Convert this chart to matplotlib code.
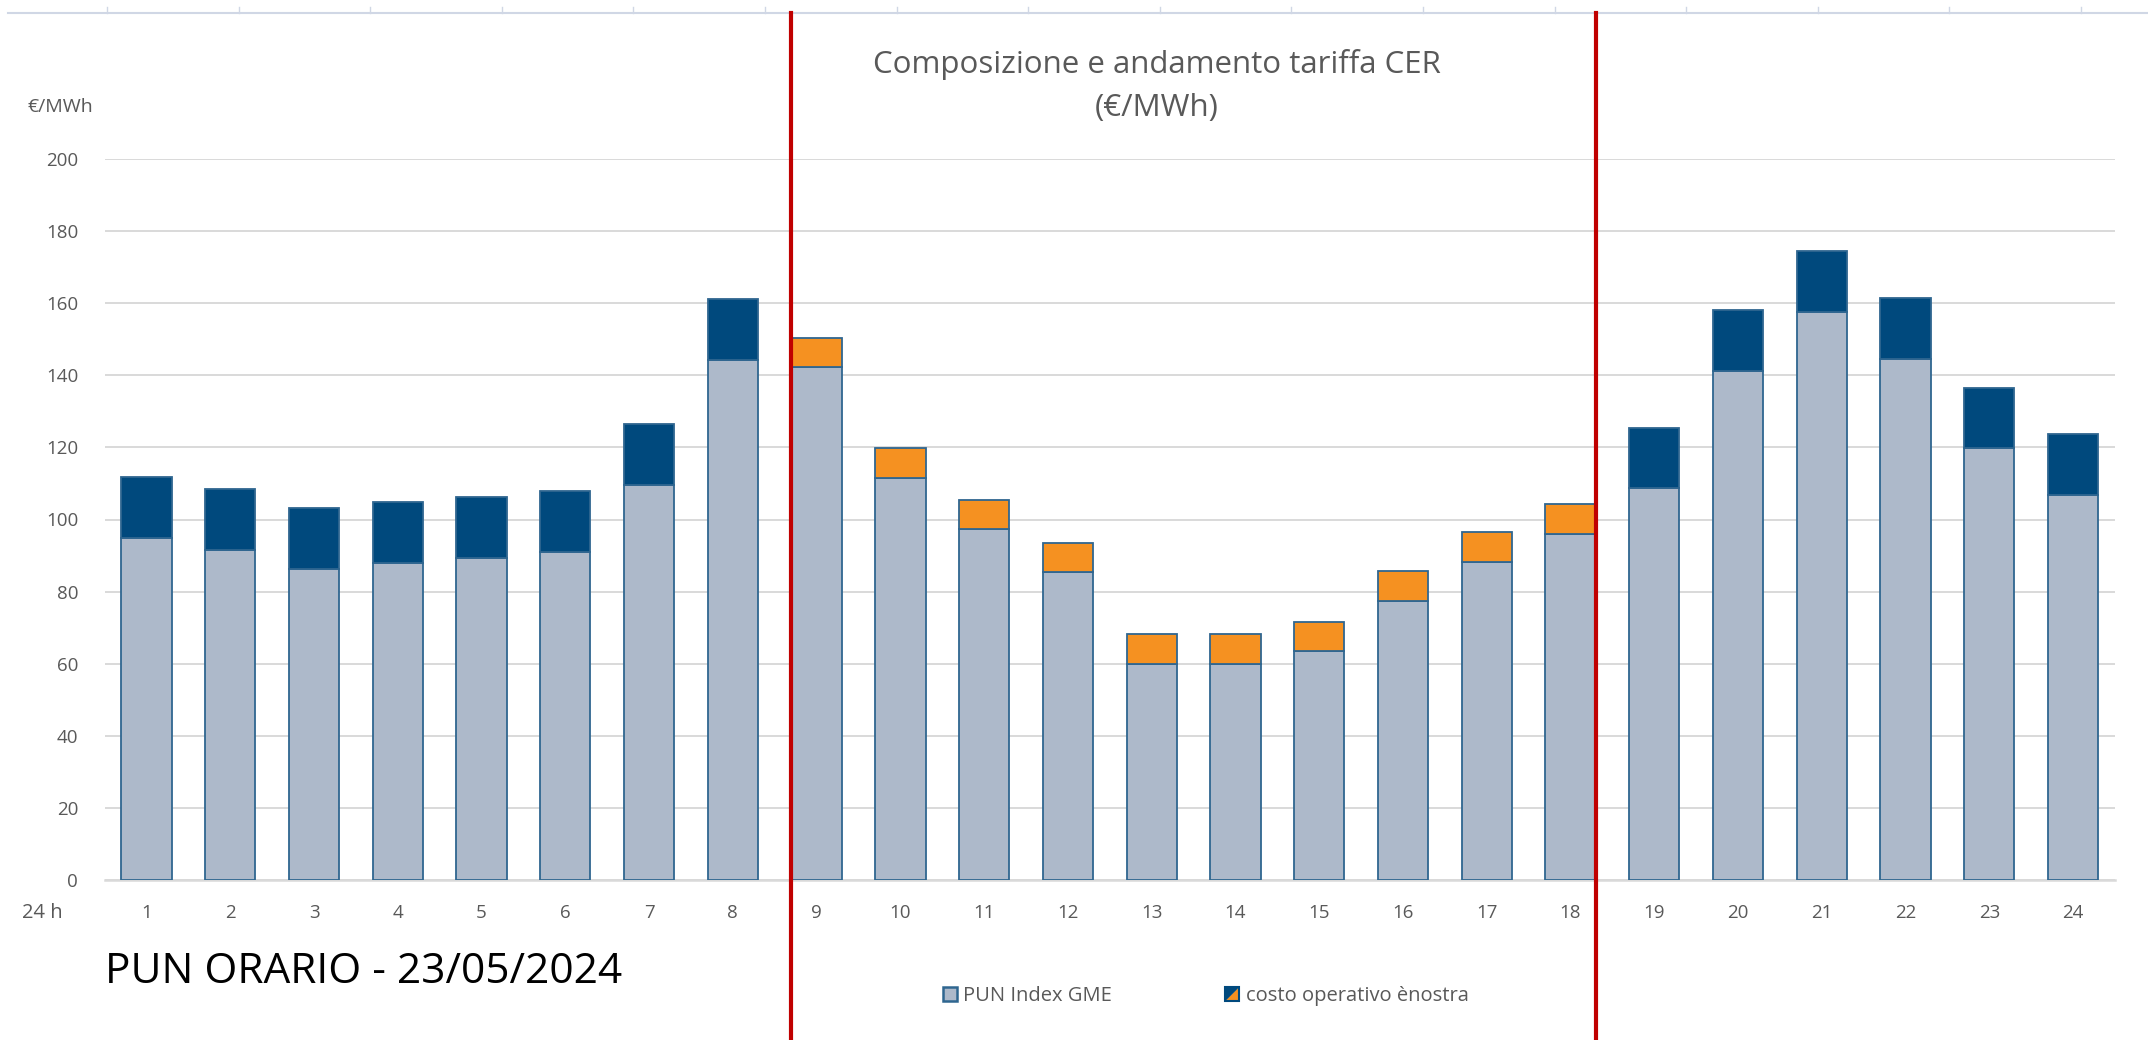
import matplotlib
matplotlib.use("Agg")
import matplotlib.pyplot as plt
from matplotlib.lines import Line2D
from matplotlib.patches import Patch, Polygon, Rectangle
from matplotlib.legend_handler import HandlerBase
from matplotlib.transforms import blended_transform_factory
import numpy as np

# ---------------- data ----------------
hours = list(range(1, 25))
pun_index_gme = [95.0, 91.5, 86.4, 88.0, 89.3, 91.1, 109.7, 144.3,
                 142.3, 111.6, 97.3, 85.3, 60.0, 60.0, 63.5, 77.4, 88.3, 96.1,
                 108.6, 141.1, 157.6, 144.5, 119.8, 106.8]
costo_operativo = [16.8, 16.9, 16.8, 16.9, 17.0, 16.8, 16.8, 16.8,
                   8.1, 8.1, 8.2, 8.1, 8.2, 8.2, 8.1, 8.3, 8.1, 8.1,
                   16.7, 16.9, 16.9, 17.0, 16.8, 16.8]
solar_hours = [9, 10, 11, 12, 13, 14, 15, 16, 17, 18]
y_ticks = [0, 20, 40, 60, 80, 100, 120, 140, 160, 180, 200]
title_lines = ["Composizione e andamento tariffa CER", "(€/MWh)"]
series_names = ["PUN Index GME", "costo operativo ènostra"]
date_label = "PUN ORARIO - 23/05/2024"

# ---------------- style ----------------
C_PUN = "#ADB9CA"
C_EDGE = "#2F6690"
C_DARK = "#00497D"
C_ORANGE = "#F59121"
C_RED = "#C00000"
C_GRID = "#D9D9D9"
C_TEXT = "#595959"
FONT = ["Open Sans", "DejaVu Sans"]
plt.rcParams["font.family"] = FONT

W, H = 2148, 1040
fig = plt.figure(figsize=(W / 100, H / 100), dpi=100)
ax = fig.add_axes([104.6 / W, 1 - 880 / H, (2115 - 104.6) / W, (880 - 159) / H])

bw = 0.6
cost_colors = [C_ORANGE if h in solar_hours else C_DARK for h in hours]
ax.bar(hours, pun_index_gme, width=bw, color=C_PUN, edgecolor=C_EDGE,
       linewidth=1.3, zorder=3)
ax.bar(hours, costo_operativo, width=bw, bottom=pun_index_gme,
       color=cost_colors, edgecolor=C_EDGE, linewidth=1.3, zorder=3)

ax.set_xlim(0.5, 24.5)
ax.set_ylim(0, 200)
ax.set_yticks(y_ticks)
ax.set_xticks(hours)
ax.set_xticklabels([str(h) for h in hours])
ax.yaxis.grid(True, color=C_GRID, linewidth=1.4, zorder=0)
ax.set_axisbelow(True)
for s in ["left", "right", "top"]:
    ax.spines[s].set_visible(False)
ax.spines["bottom"].set_color(C_GRID)
ax.spines["bottom"].set_linewidth(1.8)
ax.tick_params(axis="both", length=0, colors=C_TEXT, labelsize=13.5)
ax.tick_params(axis="x", pad=17)
ax.tick_params(axis="y", pad=19)

# titles and labels
fig.text(1157 / W, 1 - 65 / H, title_lines[0], ha="center", va="center",
         fontsize=22.5, color=C_TEXT)
fig.text(1157 / W, 1 - 108 / H, title_lines[1], ha="center", va="center",
         fontsize=22.5, color=C_TEXT)
fig.text(27 / W, 1 - 107 / H, "€/MWh", ha="left", va="center",
         fontsize=14, color=C_TEXT)
fig.text(42 / W, 1 - 913 / H, "24 h", ha="center", va="center",
         fontsize=14.5, color=C_TEXT)
fig.text(105 / W, 1 - 972 / H, date_label, ha="left", va="center",
         fontsize=30.5, color="black",
         family=["Liberation Sans Narrow", "Open Sans", "DejaVu Sans"])

# top frame line with small ticks
top_y = 1 - 13 / H
fig.add_artist(Line2D([8 / W, 1], [top_y, top_y], transform=fig.transFigure,
                      color="#D0D7E5", linewidth=1.5))
for k in range(16):
    xx = (107 + 131.6 * k) / W
    fig.add_artist(Line2D([xx, xx], [top_y, top_y + 6 / H],
                          transform=fig.transFigure, color="#D0D7E5",
                          linewidth=1.0))

# red separators at the edges of the solar block
trans = blended_transform_factory(ax.transData, fig.transFigure)
for xr in [solar_hours[0] - bw / 2, solar_hours[-1] + bw / 2]:
    fig.add_artist(Line2D([xr, xr], [0, top_y], transform=trans,
                          color=C_RED, linewidth=3))


class SplitHandler(HandlerBase):
    def create_artists(self, legend, orig_handle, xdescent, ydescent,
                       width, height, fontsize, trans):
        s = height * 1.0
        x0 = xdescent + (width - s) / 2
        y0 = ydescent + (height - s) / 2
        t1 = Polygon([[x0, y0], [x0 + s, y0 + s], [x0, y0 + s]],
                     closed=True, facecolor=C_DARK, edgecolor="none",
                     transform=trans)
        t2 = Polygon([[x0, y0], [x0 + s, y0], [x0 + s, y0 + s]],
                     closed=True, facecolor=C_ORANGE, edgecolor="none",
                     transform=trans)
        r = Rectangle((x0, y0), s, s, facecolor="none", edgecolor=C_DARK,
                      linewidth=1.5, transform=trans)
        return [t2, t1, r]


class SquareHandler(HandlerBase):
    def create_artists(self, legend, orig_handle, xdescent, ydescent,
                       width, height, fontsize, trans):
        s = height * 1.0
        x0 = xdescent + (width - s) / 2
        y0 = ydescent + (height - s) / 2
        r = Rectangle((x0, y0), s, s, facecolor=C_PUN, edgecolor=C_EDGE,
                      linewidth=1.8, transform=trans)
        return [r]


h1 = Patch(facecolor=C_PUN)
h2 = Patch(facecolor=C_ORANGE)
leg = fig.legend([h1, h2], series_names, loc="center",
                 bbox_to_anchor=(1205 / W, 1 - 996 / H), ncol=2,
                 frameon=False, fontsize=14.5, handlelength=0.8,
                 handletextpad=0.25, columnspacing=5.6,
                 handler_map={h1: SquareHandler(), h2: SplitHandler()})
for t in leg.get_texts():
    t.set_color(C_TEXT)

fig.savefig("out.png", dpi=100, facecolor="white")
